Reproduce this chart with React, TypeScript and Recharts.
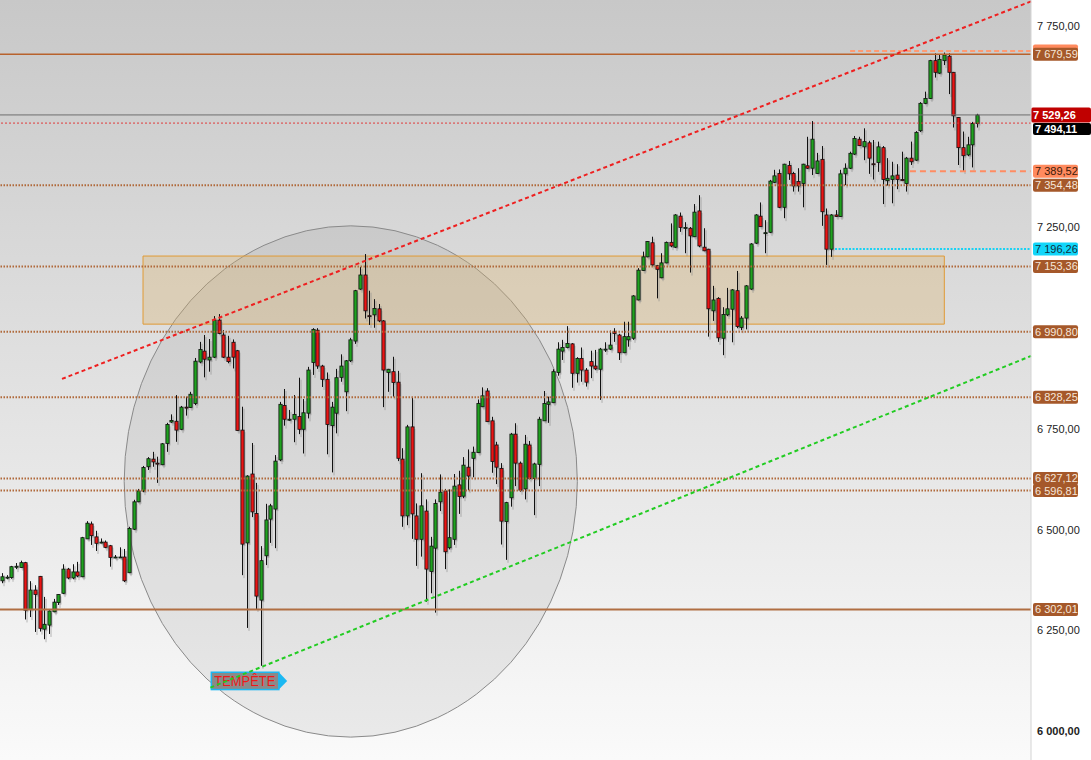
import {
  Bar,
  ComposedChart,
  ReferenceArea,
  ReferenceLine,
  XAxis,
  YAxis,
} from "recharts";

// daily candles, oldest first
const opens = [
  6373, 6381, 6381, 6408, 6406, 6418, 6302, 6350, 6384, 6253,
  6263, 6296, 6319, 6342, 6402, 6380, 6395, 6383, 6477, 6514,
  6482, 6469, 6469, 6460, 6431, 6432, 6432, 6393, 6501, 6569,
  6596, 6656, 6675, 6665, 6661, 6714, 6767, 6769, 6749, 6804,
  6803, 6813, 6916, 6943, 6921, 6928, 7020, 6983, 6928, 6965,
  6944, 6747, 6467, 6638, 6540, 6325, 6435, 6526, 6551, 6673,
  6808, 6774, 6774, 6781, 6749, 6789, 6915, 6995, 6906, 6873,
  6758, 6789, 6878, 6842, 6919, 6968, 7097, 7132, 7031, 7033,
  7048, 7018, 6890, 6892, 6866, 6675, 6534, 6755, 6534, 6476,
  6546, 6396, 6454, 6569, 6596, 6455, 6476, 6611, 6583, 6655,
  6677, 6691, 6805, 6844, 6770, 6710, 6652, 6520, 6579, 6737,
  6665, 6601, 6710, 6627, 6662, 6770, 6811, 6815, 6890, 6943,
  6952, 6961, 6888, 6925, 6896, 6917, 6906, 6898, 6948, 6948,
  6991, 6983, 6939, 6971, 6975, 7070, 7143, 7177, 7212, 7155,
  7125, 7162, 7213, 7201, 7278, 7250, 7248, 7227, 7291, 7201,
  7196, 7043, 7074, 6975, 7033, 7047, 7093, 7002, 7025, 7097,
  7211, 7278, 7237, 7238, 7362, 7384, 7300, 7404, 7384, 7364,
  7359, 7403, 7397, 7384, 7419, 7281, 7196, 7281, 7277, 7383,
  7397, 7432, 7469, 7450, 7460, 7408, 7411, 7448, 7366, 7369,
  7380, 7369, 7359, 7422, 7417, 7490, 7558, 7570, 7664, 7633,
  7664, 7675, 7635, 7523, 7448, 7430, 7455, 7508,
];

const highs = [
  6392, 6387, 6410, 6417, 6423, 6420, 6372, 6362, 6385, 6333,
  6300, 6328, 6340, 6414, 6405, 6414, 6420, 6482, 6521, 6520,
  6497, 6478, 6473, 6462, 6437, 6456, 6452, 6507, 6574, 6601,
  6658, 6680, 6693, 6681, 6715, 6765, 6786, 6834, 6807, 6830,
  6842, 6926, 6966, 6983, 6973, 7030, 7035, 6995, 6981, 6972,
  6946, 6805, 6635, 6715, 6616, 6459, 6564, 6564, 6685, 6817,
  6849, 6797, 6834, 6877, 6824, 6904, 7000, 7000, 6909, 6890,
  6817, 6899, 6935, 6921, 6976, 7095, 7152, 7184, 7093, 7072,
  7060, 7020, 6899, 6929, 6894, 6702, 6760, 6827, 6565, 6640,
  6575, 6482, 6575, 6637, 6601, 6600, 6638, 6646, 6680, 6699,
  6706, 6823, 6853, 6851, 6780, 6718, 6665, 6569, 6740, 6764,
  6669, 6735, 6720, 6666, 6780, 6844, 6830, 6898, 6965, 6971,
  7005, 6963, 6928, 6952, 6901, 6944, 6946, 6951, 6965, 6994,
  7000, 6986, 7016, 7016, 7082, 7149, 7190, 7216, 7227, 7157,
  7186, 7215, 7260, 7283, 7287, 7263, 7251, 7308, 7330, 7248,
  7197, 7105, 7077, 7052, 7100, 7097, 7142, 7030, 7107, 7211,
  7283, 7312, 7268, 7368, 7393, 7394, 7408, 7415, 7388, 7397,
  7408, 7475, 7514, 7435, 7452, 7297, 7283, 7293, 7393, 7409,
  7438, 7477, 7475, 7496, 7465, 7467, 7463, 7452, 7422, 7413,
  7407, 7438, 7425, 7463, 7489, 7561, 7587, 7666, 7682, 7680,
  7684, 7682, 7636, 7524, 7488, 7475, 7512, 7532,
];

const lows = [
  6367, 6377, 6378, 6402, 6405, 6277, 6283, 6246, 6247, 6228,
  6241, 6295, 6313, 6340, 6377, 6377, 6382, 6382, 6477, 6462,
  6447, 6466, 6454, 6408, 6429, 6431, 6370, 6392, 6499, 6568,
  6593, 6648, 6656, 6616, 6660, 6693, 6765, 6718, 6747, 6783,
  6802, 6809, 6913, 6878, 6892, 6926, 6985, 6926, 6913, 6900,
  6745, 6387, 6256, 6531, 6303, 6162, 6412, 6467, 6454, 6670,
  6758, 6770, 6717, 6737, 6689, 6776, 6884, 6899, 6854, 6687,
  6642, 6739, 6867, 6794, 6916, 6961, 7095, 7024, 7008, 7001,
  7015, 6804, 6842, 6830, 6670, 6507, 6511, 6477, 6410, 6433,
  6321, 6342, 6294, 6546, 6402, 6451, 6462, 6539, 6578, 6598,
  6630, 6690, 6804, 6767, 6641, 6613, 6463, 6425, 6557, 6608,
  6594, 6575, 6625, 6536, 6608, 6770, 6765, 6814, 6882, 6921,
  6950, 6852, 6865, 6867, 6855, 6876, 6896, 6822, 6941, 6946,
  6966, 6921, 6938, 6954, 6971, 7069, 7142, 7176, 7154, 7074,
  7124, 7161, 7201, 7199, 7239, 7186, 7138, 7226, 7201, 7191,
  6979, 7018, 6966, 6933, 7030, 6965, 7000, 6995, 6997, 7095,
  7209, 7251, 7186, 7236, 7360, 7298, 7273, 7368, 7339, 7339,
  7300, 7395, 7380, 7383, 7254, 7157, 7177, 7276, 7276, 7355,
  7395, 7430, 7452, 7417, 7383, 7369, 7388, 7308, 7354, 7310,
  7345, 7365, 7339, 7405, 7415, 7487, 7556, 7569, 7622, 7631,
  7653, 7581, 7498, 7405, 7390, 7427, 7399, 7498,
];

const closes = [
  6383, 6382, 6408, 6409, 6418, 6300, 6350, 6339, 6255, 6265,
  6298, 6320, 6339, 6402, 6380, 6395, 6385, 6480, 6516, 6485,
  6466, 6469, 6456, 6431, 6432, 6432, 6373, 6503, 6569, 6596,
  6654, 6676, 6668, 6664, 6713, 6761, 6771, 6747, 6804, 6803,
  6836, 6918, 6947, 6923, 6928, 7020, 6987, 6928, 6917, 6928,
  6746, 6464, 6633, 6544, 6335, 6423, 6524, 6559, 6670, 6811,
  6774, 6774, 6786, 6749, 6790, 6896, 6997, 6906, 6873, 6761,
  6804, 6877, 6906, 6919, 6971, 7093, 7132, 7043, 7030, 7049,
  7018, 6896, 6898, 6865, 6677, 6534, 6755, 6539, 6476, 6559,
  6402, 6459, 6565, 6593, 6445, 6480, 6608, 6582, 6660, 6633,
  6692, 6813, 6832, 6768, 6669, 6655, 6521, 6567, 6737, 6665,
  6598, 6712, 6627, 6663, 6774, 6813, 6817, 6892, 6948, 6952,
  6962, 6888, 6925, 6896, 6866, 6906, 6899, 6948, 6948, 6958,
  6987, 6939, 6979, 6979, 7080, 7144, 7177, 7215, 7157, 7146,
  7162, 7213, 7204, 7281, 7250, 7250, 7229, 7288, 7204, 7192,
  7048, 7070, 6976, 7034, 7048, 7095, 7004, 7025, 7105, 7209,
  7281, 7252, 7237, 7365, 7378, 7300, 7407, 7383, 7353, 7353,
  7407, 7397, 7469, 7415, 7289, 7196, 7281, 7277, 7383, 7397,
  7434, 7471, 7453, 7463, 7422, 7407, 7450, 7369, 7372, 7378,
  7369, 7366, 7422, 7413, 7486, 7558, 7570, 7664, 7635, 7667,
  7678, 7635, 7527, 7448, 7428, 7455, 7508, 7529,
];

const axisTicks = [6000, 6250, 6500, 6750, 7250, 7750];

// horizontal levels (values from the price tags)
const dottedLevels = [7354.48, 7153.36, 6990.8, 6828.25, 6627.12, 6596.81];
const topResistance = 7679.59;
const bottomSupport = 6302.01;
const lastPrice = 7529.26;
const refPrice = 7494.11;
const prevLevel = 7509;
const recentLow = 7389.52;
const cyanLevel = 7196.26;
const highBand = 7688;

// trend lines, as [session, price] pairs
const redTrend = [
  { x: 12.8, y: 6874 },
  { x: 218.5, y: 7811 },
];
const greenTrend = [
  { x: 44.3, y: 6108 },
  { x: 218.5, y: 6931 },
];

// "TEMPÊTE" flag box, anchored at the start of the green line
const flagSessions = [44.5, 60.6];
const flagPrices = [6103, 6146];

const zoneSessions = [30, 200.1];
const zonePrices = [7010, 7179];
const circleSessions = [26, 122.2];
const circlePrices = [5985, 7254];

const xDomain = [-0.36, 218.5];
const yDomain = [5928.2, 7814.5];

const FONT = "'Liberation Sans', Arial, sans-serif";

const candles = opens.map((open, i) => ({
  i,
  open,
  high: highs[i],
  low: lows[i],
  close: closes[i],
  range: [lows[i], highs[i]],
}));

function fmt(v: number) {
  return v
    .toFixed(2)
    .replace(".", ",")
    .replace(/\B(?=(\d{3})+(?!\d))/g, " ");
}

function Candle(props: any) {
  const { x, y, width, height, payload } = props;
  if (!payload || x == null) return null;
  const top = Math.min(y, y + height);
  const bottom = Math.max(y, y + height);
  const span = payload.high - payload.low || 1;
  const toPx = (v: number) =>
    top + ((payload.high - v) / span) * (bottom - top);
  const cx = Math.round(x + width / 2) + 0.5;
  const bTop = toPx(Math.max(payload.open, payload.close));
  const bBot = toPx(Math.min(payload.open, payload.close));
  const bh = Math.max(bBot - bTop, 1);
  const up = payload.close >= payload.open;
  return (
    <g>
      <line
        x1={cx + 1.5}
        x2={cx + 1.5}
        y1={top + 2}
        y2={bottom + 3}
        stroke="#8e8e8e"
        strokeOpacity={0.6}
      />
      <rect
        x={cx}
        y={bTop + 2}
        width={3}
        height={bh}
        fill="#8e8e8e"
        fillOpacity={0.5}
      />
      <line x1={cx} x2={cx} y1={top} y2={bottom} stroke="#111" />
      <rect
        x={cx - 1.6}
        y={bTop}
        width={3.2}
        height={bh}
        fill={up ? "#1fa21f" : "#ea1414"}
        stroke="#111"
        strokeWidth={0.8}
      />
    </g>
  );
}

function PriceTag(props: any) {
  const { viewBox, value, bg, fg, bold, wide, border, h = 13, dx = 2, blank } =
    props;
  if (!viewBox) return null;
  const x = viewBox.x + viewBox.width + dx;
  const cy = viewBox.y + (viewBox.height || 0) / 2;
  const w = wide ? 1091 - x : 45;
  return (
    <g>
      <rect
        x={x}
        y={cy - h / 2}
        width={w}
        height={h}
        rx={2}
        fill={bg}
        stroke={border || "none"}
      />
      {!blank && (
        <text
          x={x + 2}
          y={cy + 4}
          fontSize={11}
          fill={fg}
          fontWeight={bold ? 700 : 400}
          fontFamily={FONT}
        >
          {fmt(value)}
        </text>
      )}
    </g>
  );
}

function PriceTick(props: any) {
  const { x, y, payload } = props;
  return (
    <text
      x={x}
      y={y}
      dy={4}
      fontSize={11}
      fill="#222"
      fontFamily={FONT}
      fontWeight={payload.value === 6000 ? 700 : 400}
      textAnchor="start"
    >
      {fmt(payload.value)}
    </text>
  );
}

function StormFlag(props: any) {
  const { x, y, width, height } = props;
  if (x == null) return null;
  const w = width * 0.89;
  return (
    <g>
      <polygon
        points={`${x + w},${y} ${x + width},${y + height / 2} ${x + w},${y + height}`}
        fill="#1cb8f2"
      />
      <rect
        x={x}
        y={y}
        width={w}
        height={height}
        fill="#8a8a8a"
        stroke="#1cb8f2"
        strokeWidth={1.5}
      />
      <text
        x={x + 3}
        y={y + height - 3.5}
        fontSize={15}
        fill="#f01818"
        fontFamily={FONT}
        textLength={61}
        lengthAdjust="spacingAndGlyphs"
      >
        TEMPÊTE
      </text>
    </g>
  );
}

const brownTag = { bg: "#a5582a", fg: "#f6e6d8" };

export default function App() {
  return (
    <div
      style={{
        position: "relative",
        width: 1091,
        height: 760,
        background: "#fff",
        fontFamily: FONT,
      }}
    >
      <style>{"body{margin:0}"}</style>
      <div
        style={{
          position: "absolute",
          left: 0,
          top: 0,
          width: 1031,
          height: 760,
          background: "linear-gradient(#c8c8c8, #fafafa)",
        }}
      />
      <div style={{ position: "absolute", left: 0, top: 0 }}>
        <ComposedChart
          width={1091}
          height={760}
          data={candles}
          margin={{ top: 0, right: 0, bottom: 0, left: 0 }}
        >
          <XAxis
            type="number"
            dataKey="i"
            domain={xDomain}
            allowDataOverflow
            hide
          />
          <YAxis
            orientation="right"
            domain={yDomain}
            ticks={axisTicks}
            allowDataOverflow
            interval={0}
            width={60}
            tickLine={false}
            tickMargin={0}
            axisLine={{ stroke: "#d4d4d4" }}
            tick={<PriceTick />}
          />

          <ReferenceArea
            x1={circleSessions[0]}
            x2={circleSessions[1]}
            y1={circlePrices[0]}
            y2={circlePrices[1]}
            shape={(p: any) => (
              <ellipse
                cx={p.x + p.width / 2}
                cy={p.y + p.height / 2}
                rx={p.width / 2}
                ry={p.height / 2}
                fill="#000"
                fillOpacity={0.06}
                stroke="#8a8a8a"
                strokeWidth={1}
              />
            )}
          />
          <ReferenceArea
            x1={zoneSessions[0]}
            x2={zoneSessions[1]}
            y1={zonePrices[0]}
            y2={zonePrices[1]}
            fill="#dcae62"
            fillOpacity={0.3}
            stroke="#e09a35"
            strokeWidth={1}
          />
          <ReferenceArea
            x1={flagSessions[0]}
            x2={flagSessions[1]}
            y1={flagPrices[0]}
            y2={flagPrices[1]}
            ifOverflow="visible"
            shape={(p: any) => <StormFlag {...p} />}
          />

          <Bar
            dataKey="range"
            barSize={3}
            isAnimationActive={false}
            shape={(p: any) => <Candle {...p} />}
          />

          {dottedLevels.map((v) => (
            <ReferenceLine
              key={v}
              y={v}
              stroke="#b0693a"
              strokeWidth={2}
              strokeDasharray="1.5 1.5"
              label={<PriceTag value={v} {...brownTag} />}
            />
          ))}
          <ReferenceLine
            y={bottomSupport}
            stroke="#b06e42"
            strokeWidth={2}
            label={<PriceTag value={bottomSupport} {...brownTag} />}
          />
          <ReferenceLine
            segment={[
              { x: 180.1, y: highBand },
              { x: xDomain[1], y: highBand },
            ]}
            stroke="#ff9a72"
            strokeWidth={2}
            strokeDasharray="5 3"
            ifOverflow="visible"
            label={<PriceTag value={highBand} bg="#ff8a5e" blank />}
          />
          <ReferenceLine
            y={topResistance}
            stroke="#b8622c"
            strokeWidth={1.5}
            label={<PriceTag value={topResistance} {...brownTag} />}
          />
          <ReferenceLine
            y={prevLevel}
            stroke="#e03a3a"
            strokeWidth={1}
            strokeDasharray="2 2"
          />
          <ReferenceLine
            y={refPrice}
            stroke="none"
            label={
              <PriceTag
                value={refPrice}
                bg="#000"
                fg="#fff"
                bold
                wide
                h={12}
              />
            }
          />
          <ReferenceLine
            y={lastPrice}
            stroke="#6e6e6e"
            strokeWidth={1}
            label={
              <PriceTag
                value={lastPrice}
                bg="#c00000"
                fg="#fff"
                bold
                wide
                dx={0}
                h={15}
              />
            }
          />
          <ReferenceLine
            segment={[
              { x: 192.8, y: recentLow },
              { x: xDomain[1], y: recentLow },
            ]}
            stroke="#ff8c62"
            strokeWidth={2}
            strokeDasharray="6 4"
            ifOverflow="visible"
            label={<PriceTag value={recentLow} bg="#ff8a5e" fg="#3a1a0a" />}
          />
          <ReferenceLine
            segment={[
              { x: 176.9, y: cyanLevel },
              { x: xDomain[1], y: cyanLevel },
            ]}
            stroke="#18d2f4"
            strokeWidth={2}
            strokeDasharray="2 1.5"
            ifOverflow="visible"
            label={<PriceTag value={cyanLevel} bg="#12d6fa" fg="#103040" />}
          />

          <ReferenceLine
            segment={redTrend}
            stroke="#ee2020"
            strokeWidth={2}
            strokeDasharray="4 3"
            ifOverflow="visible"
          />
          <ReferenceLine
            segment={greenTrend}
            stroke="#22cc22"
            strokeWidth={2}
            strokeDasharray="4 3"
            ifOverflow="visible"
          />
        </ComposedChart>
      </div>
    </div>
  );
}
